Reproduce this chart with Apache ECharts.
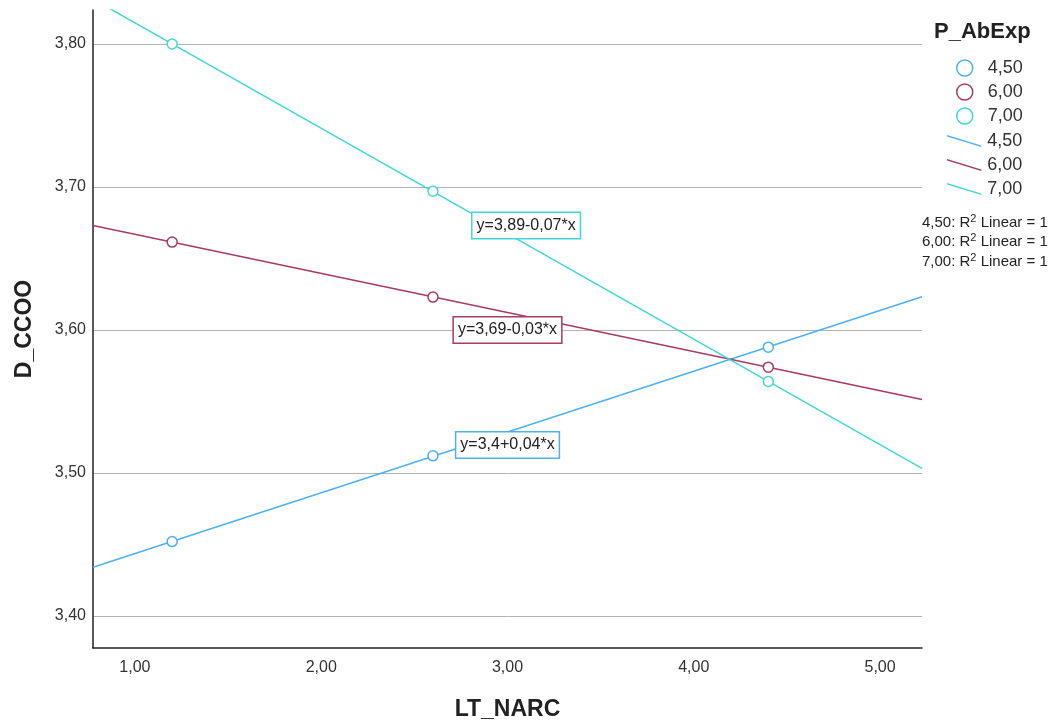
<!DOCTYPE html>
<html>
<head>
<meta charset="utf-8">
<script src="https://cdn.jsdelivr.net/npm/echarts@6/dist/echarts.min.js"></script>
<style>
  html, body { margin: 0; padding: 0; background: #fff; }
  #chart { width: 1062px; height: 728px; }
</style>
</head>
<body>
<div id="chart"></div>
<script>
// LT_NARC values where the groups were measured
var xValues = [1.2, 2.6, 4.4];
// D_CCOO per P_AbExp group
var groups = ['4,50', '6,00', '7,00'];
var yAbExp450 = [3.452, 3.512, 3.588];
var yAbExp600 = [3.6615, 3.623, 3.574];
var yAbExp700 = [3.800, 3.697, 3.564];
var fitLabels = ['y=3,4+0,04*x', 'y=3,69-0,03*x', 'y=3,89-0,07*x'];
var yTicks = [3.40, 3.50, 3.60, 3.70, 3.80];
var xTicks = [1, 2, 3, 4, 5];

var colors = ['#4db0f5', '#a93a62', '#42d6d6'];
var X_MIN = 0.775, X_MAX = 5.225, Y_MIN = 3.3776, Y_MAX = 3.8238;
// where the equation boxes sit (data coords)
var labelPos = [[3.0, 3.5196], [3.0, 3.60], [3.10, 3.673]];

function comma(v) { return v.toFixed(2).replace('.', ','); }

// least squares fit of one group
function fit(ys) {
  var n = xValues.length, sx = 0, sy = 0, sxx = 0, sxy = 0;
  for (var i = 0; i < n; i++) {
    sx += xValues[i]; sy += ys[i];
    sxx += xValues[i] * xValues[i]; sxy += xValues[i] * ys[i];
  }
  var b = (n * sxy - sx * sy) / (n * sxx - sx * sx);
  var a = (sy - b * sx) / n;
  return { a: a, b: b };
}

var allY = [yAbExp450, yAbExp600, yAbExp700];
var series = [];
allY.forEach(function (ys, k) {
  series.push({
    name: groups[k],
    type: 'scatter',
    symbol: 'circle',
    symbolSize: 10,
    itemStyle: { color: '#fff', borderColor: colors[k], borderWidth: 1.5, opacity: 1 },
    data: xValues.map(function (x, i) { return [x, ys[i]]; }),
    z: 5
  });
});
allY.forEach(function (ys, k) {
  var f = fit(ys);
  series.push({
    name: groups[k] + ' fit',
    type: 'line',
    symbol: 'none',
    clip: true,
    lineStyle: { color: colors[k], width: 1.5 },
    itemStyle: { color: colors[k] },
    data: [[X_MIN, f.a + f.b * X_MIN], [X_MAX, f.a + f.b * X_MAX]],
    markPoint: {
      symbol: 'rect',
      symbolSize: 1,
      itemStyle: { color: 'transparent' },
      label: {
        show: true,
        formatter: fitLabels[k],
        color: '#222',
        fontFamily: 'Liberation Sans',
        fontSize: 16,
        backgroundColor: '#fff',
        borderColor: colors[k],
        borderWidth: 1.5,
        padding: [5, 4, 4, 4],
        position: 'inside'
      },
      data: [{ coord: labelPos[k] }]
    },
    z: 3
  });
});

var chart = echarts.init(document.getElementById('chart'));
chart.setOption({
  animation: false,
  textStyle: { fontFamily: 'Liberation Sans' },
  grid: { left: 93, right: 140, top: 10, bottom: 80 },
  xAxis: {
    type: 'value',
    min: X_MIN,
    max: X_MAX,
    name: 'LT_NARC',
    nameLocation: 'middle',
    nameGap: 50,
    nameTextStyle: { fontSize: 23, fontWeight: 'bold', color: '#222' },
    axisLine: { lineStyle: { color: '#222', width: 1.5 } },
    axisTick: { show: false, customValues: xTicks },
    splitLine: { show: false },
    axisLabel: {
      color: '#333', fontSize: 16, margin: 12,
      customValues: xTicks,
      formatter: function (v) { return comma(v); }
    }
  },
  yAxis: {
    type: 'value',
    min: Y_MIN,
    max: Y_MAX,
    name: 'D_CCOO',
    nameLocation: 'middle',
    nameGap: 57,
    nameRotate: 90,
    nameTextStyle: { fontSize: 23, fontWeight: 'bold', color: '#222' },
    axisLine: { show: true, lineStyle: { color: '#222', width: 1.5 } },
    axisTick: { show: false, customValues: yTicks },
    axisLabel: {
      color: '#333', fontSize: 16, margin: 7,
      customValues: yTicks,
      formatter: function (v) { return comma(v); }
    },
    splitLine: { show: true, lineStyle: { color: '#b4b4b4', width: 1 } }
  },
  legend: [
    {
      orient: 'vertical',
      left: 956,
      top: 59,
      padding: 0,
      itemWidth: 36,
      itemHeight: 16,
      itemGap: 6,
      textStyle: { fontSize: 18, color: '#333' },
      data: groups.map(function (g, k) {
        return { name: g, icon: 'circle', itemStyle: { color: '#fff', borderColor: colors[k], borderWidth: 1.5 } };
      })
    },
    {
      orient: 'vertical',
      left: 947,
      top: 132,
      padding: 0,
      itemWidth: 36,
      itemHeight: 12,
      itemGap: 6,
      textStyle: { fontSize: 18, color: '#333' },
      formatter: function (n) { return n.split(' ')[0]; },
      data: groups.map(function (g, k) {
        return { name: g + ' fit', icon: 'path://M0,0L36,11L36,12.6L0,1.6Z', itemStyle: { color: colors[k] } };
      })
    }
  ],
  graphic: [
    {
      type: 'text', left: 934, top: 21,
      style: { text: 'P_AbExp', font: 'bold 22px Liberation Sans', fill: '#222' }
    },
    {
      type: 'text', left: 922, top: 213,
      style: {
        text: groups.map(function (g) { return g + ': R{sup|2} Linear = 1'; }).join('\n'),
        font: '15px Liberation Sans',
        fill: '#222',
        lineHeight: 19.5,
        rich: { sup: { fontSize: 11, verticalAlign: 'top', padding: [0, 0, 6, 0] } }
      }
    }
  ],
  series: series
});
</script>
</body>
</html>
